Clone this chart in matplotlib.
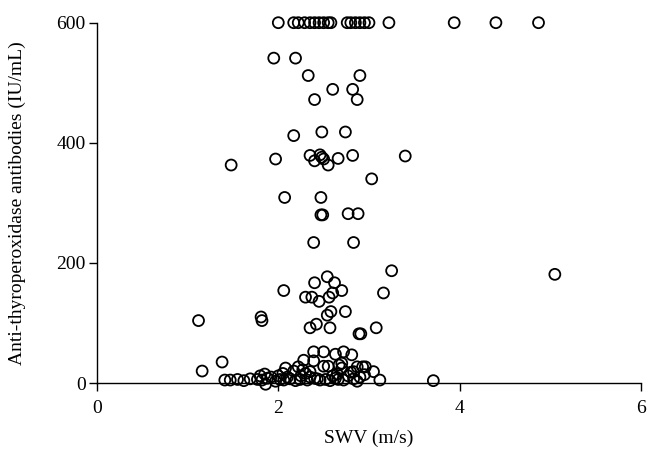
# SWV vs anti-TPO antibodies scatter

import matplotlib
matplotlib.use('Agg')
import matplotlib.pyplot as plt

# points capped at 600 IU/mL
swv_top = [2.00, 2.17, 2.22, 2.29, 2.35, 2.40, 2.45, 2.50, 2.55, 2.58,
           2.76, 2.80, 2.85, 2.90, 2.95, 3.00, 3.22, 3.94, 4.40, 4.87]
tpo_top = [600] * len(swv_top)

# upper / middle range
swv_mid = [1.95, 2.19, 2.33, 2.90, 2.60, 2.82, 2.40, 2.87, 2.17, 2.48, 2.74,
           2.35, 2.46, 2.82, 1.97, 2.50, 2.66, 2.40, 2.48, 1.48, 2.55, 3.40,
           3.03, 2.07, 2.47, 2.47, 2.49, 2.77, 2.88, 2.39, 2.83]
tpo_mid = [541, 541, 512, 512, 489, 489, 472, 472, 412, 418, 418,
           379, 380, 379, 373, 373, 374, 370, 376, 363, 363, 378,
           340, 309, 309, 280, 280, 282, 282, 234, 234]

# 80-200 range
swv_low = [5.05, 3.25, 2.54, 2.40, 2.62, 2.06, 2.70, 3.16, 2.60, 2.30, 2.37,
           2.45, 2.56, 2.58, 2.54, 2.74, 1.12, 1.81, 1.82, 2.35, 2.42, 2.57,
           2.89, 2.91, 3.08]
tpo_low = [181, 187, 177, 167, 167, 154, 154, 150, 150, 143, 143,
           136, 143, 119, 113, 119, 104, 110, 104, 92, 98, 92,
           82, 82, 92]

# near-zero cluster
swv_zero = [2.39, 2.50, 2.63, 2.72, 2.81, 2.28, 2.39, 1.38, 1.16, 2.22, 2.08,
            2.50, 2.55, 2.70, 2.70, 2.87, 2.93, 2.96, 3.05, 2.67, 2.35, 2.83,
            2.27,
            1.41, 1.47, 1.55, 1.62, 1.69, 1.77, 1.82, 1.88, 1.97, 2.02, 2.06,
            2.13, 2.19, 2.24, 2.32, 2.43, 2.46, 2.52, 2.57, 2.63, 2.66, 2.72,
            2.83, 2.87, 3.12, 3.71, 1.86,
            1.85, 1.80, 1.92, 2.00, 2.05, 2.10, 2.17, 2.25, 2.30, 2.35, 2.40,
            2.60, 2.65, 2.77, 2.80, 2.90, 2.95]
tpo_zero = [52, 52, 48, 52, 47, 38, 37, 35, 20, 27, 25,
            28, 28, 33, 25, 27, 27, 27, 19, 30, 19, 19,
            22,
            5, 5, 6, 4, 7, 6, 5, 8, 3, 6, 5,
            7, 4, 6, 5, 7, 5, 6, 4, 8, 6, 5,
            7, 3, 5, 4, -2,
            15, 12, 10, 12, 16, 10, 20, 12, 16, 10, 8,
            12, 15, 12, 18, 10, 14]

swv = swv_top + swv_mid + swv_low + swv_zero
tpo = tpo_top + tpo_mid + tpo_low + tpo_zero

plt.rcParams['font.family'] = ['Liberation Serif', 'DejaVu Serif']

fig = plt.figure(figsize=(6.57, 4.66), dpi=100)
ax = fig.add_axes([0.1476, 0.178, 0.828, 0.7733])

ax.scatter(swv, tpo, s=62, facecolors='none', edgecolors='black',
           linewidths=1.3, clip_on=False, zorder=3)

ax.set_xlim(0, 6)
ax.set_ylim(0, 600)
ax.set_xticks([0, 2, 4, 6])
ax.set_yticks([0, 200, 400, 600])
ax.tick_params(direction='out', length=6, width=1, labelsize=14,
               colors='black')
ax.tick_params(axis='y', pad=2)
ax.tick_params(axis='x', pad=6)

for side in ['top', 'right']:
    ax.spines[side].set_visible(False)
for side in ['left', 'bottom']:
    ax.spines[side].set_linewidth(1)

ax.set_xlabel('SWV (m/s)', fontsize=14, labelpad=9)
ax.set_ylabel('Anti-thyroperoxidase antibodies (IU/mL)', fontsize=14, labelpad=22)

fig.savefig('out.png', dpi=100)
